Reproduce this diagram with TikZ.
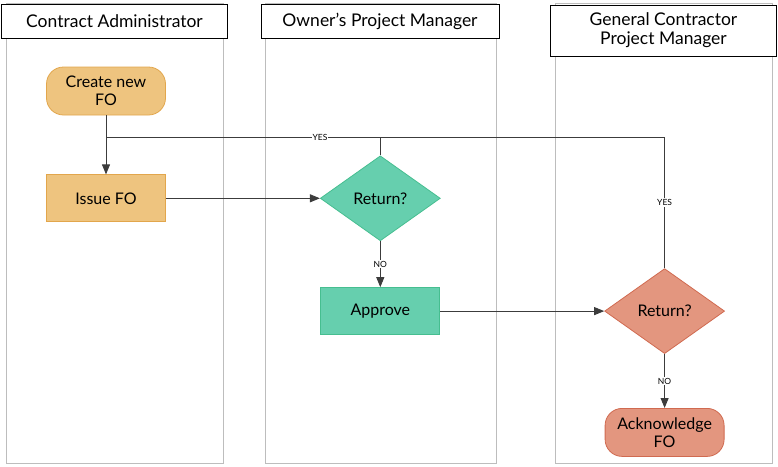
\documentclass[tikz,border=0pt]{standalone}
\usepackage{fontspec}
\setmainfont{Lato}
\usetikzlibrary{positioning, arrows.meta, shapes.geometric}

\definecolor{sandfill}{HTML}{EEC47F}
\definecolor{sanddraw}{HTML}{E2A64C}
\definecolor{mintfill}{HTML}{66CFAE}
\definecolor{mintdraw}{HTML}{46BE90}
\definecolor{coralfill}{HTML}{E3967F}
\definecolor{coraldraw}{HTML}{D06A50}
\definecolor{lanegray}{HTML}{BDBDBD}
\definecolor{wiregray}{HTML}{3C3C3C}

\begin{document}
\begin{tikzpicture}[
  x=1pt, y=-1pt,
  every node/.style={font=\fontsize{16}{18}\selectfont},
  lane/.style={draw=lanegray, line width=1pt},
  header/.style={rectangle, draw=black, fill=white, line width=0.8pt, align=center, font=\fontsize{17.5}{19}\selectfont},
  terminal/.style={rectangle, rounded corners=17pt, line width=0.8pt, minimum width=119pt, minimum height=48pt, align=center},
  process/.style={rectangle, line width=0.8pt, minimum width=119pt, minimum height=47pt, align=center},
  decision/.style={diamond, line width=0.8pt, minimum width=120pt, minimum height=85pt, inner sep=0pt, align=center},
  arrow/.style={-{Triangle[length=10pt, width=8pt]}, draw=wiregray, line width=0.9pt},
  wire/.style={draw=wiregray, line width=0.9pt},
  tag/.style={fill=white, inner sep=1pt, font=\fontsize{8.5}{9}\selectfont}
]
\useasboundingbox (0,0) rectangle (778,466);

%--------------------------------------
% Swimlanes
%--------------------------------------
\draw[lane] (6,3) rectangle (223,463);
\draw[lane] (265,3) rectangle (496,463);
\draw[lane] (555,3) rectangle (772,463);

\node[header, minimum width=226pt, minimum height=34pt] (lane_ca) at (114.5,21.5) {Contract Administrator};
\node[header, minimum width=238pt, minimum height=34pt] (lane_opm) at (380,21.5) {Owner’s Project Manager};
\node[header, minimum width=226pt, minimum height=51pt] (lane_gc) at (663.5,30.5) {General Contractor\\Project Manager};

%--------------------------------------
% Contract Administrator
%--------------------------------------
\node[terminal, fill=sandfill, draw=sanddraw] (create) at (106,91) {Create new\\FO};
\node[process, fill=sandfill, draw=sanddraw, below=59pt of create] (issue) {Issue FO};

%--------------------------------------
% Owner's Project Manager
%--------------------------------------
\node[decision, fill=mintfill, draw=mintdraw, right=154pt of issue] (opm_return) {Return?};
\node[process, fill=mintfill, draw=mintdraw, below=46pt of opm_return] (approve) {Approve};

%--------------------------------------
% General Contractor Project Manager
%--------------------------------------
\node[decision, fill=coralfill, draw=coraldraw, right=164pt of approve] (gc_return) {Return?};
\node[terminal, fill=coralfill, draw=coraldraw, below=54pt of gc_return] (ack) {Acknowledge\\FO};

%--------------------------------------
% Arrows and connections
%--------------------------------------
\coordinate (loop) at (106,137);

\draw[arrow] (create.south) -- (issue.north);
\draw[arrow] (issue.east) -- (opm_return.west);
\draw[arrow] (opm_return.south) -- node[tag]{NO} (approve.north);
\draw[arrow] (approve.east) -- (gc_return.west);
\draw[arrow] (gc_return.south) -- node[tag]{NO} (ack.north);

% Return loops back to the contract administrator
\draw[wire] (opm_return.north) |- node[tag, pos=0.61]{YES} (loop);
\draw[wire] (gc_return.north) |- node[tag, pos=0.25]{YES} (opm_return.north |- loop);

\end{tikzpicture}
\end{document}
